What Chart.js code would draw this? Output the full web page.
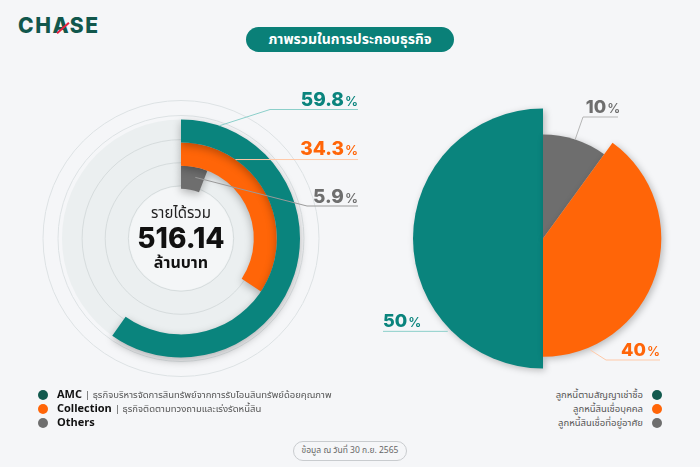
<!DOCTYPE html>
<html>
<head>
<meta charset="utf-8">
<script src="https://cdn.jsdelivr.net/npm/chart.js@4.4.1/dist/chart.umd.min.js"></script>
<style>
  html, body { margin: 0; padding: 0; }
  body {
    width: 700px; height: 467px; position: relative; overflow: hidden;
    background: #f5f6f8;
    font-family: "Noto Sans Thai", "Noto Sans", "DejaVu Sans", sans-serif;
  }
  .abs { position: absolute; }
  #logo { left: 18px; top: 14px; font-family: Inter, "DejaVu Sans", sans-serif; font-weight: 800;
    font-size: 21px; line-height: 24px; color: #11574c; letter-spacing: 1.6px; }
  #slash { left: 55px; top: 27px; width: 16px; height: 2px; background: #e8213e; transform: rotate(-42deg); }
  #title { left: 246px; top: 27px; width: 208px; height: 25px; border-radius: 13px; background: #0a8078;
    color: #fff; font-size: 14px; font-weight: bold; text-align: center; line-height: 25px; }
  #leftWrap { left: 0; top: 90px; width: 362px; height: 297px; }
  #rightWrap { left: 370px; top: 90px; width: 330px; height: 297px; }
  #center { left: 121px; top: 205px; width: 120px; text-align: center; color: #111; }
  #center .t1 { font-size: 15px; line-height: 18px; color: #222; }
  #center .t2 { font-family: Inter, sans-serif; font-weight: 800; font-size: 28px; line-height: 30px; }
  #center .t3 { font-size: 16px; font-weight: bold; line-height: 20px; }
  .leg { font-size: 9.5px; color: #555; }
  .leg div { height: 14px; line-height: 14px; display: flex; align-items: center; }
  .dot { width: 10px; height: 10px; border-radius: 50%; display: inline-block; }
  #legL { left: 38px; top: 388px; }
  #legL .dot { margin-right: 9px; }
  #legL b { color: #111; font-size: 11px; margin-right: 3px; }
  #legR { right: 38px; top: 388px; text-align: right; }
  #legR div { justify-content: flex-end; }
  #legR .dot { margin-left: 9px; }
  #foot { left: 293px; top: 441px; width: 112px; height: 18px; border: 1px solid #c9cccf; border-radius: 10px;
    font-size: 8.5px; color: #666; text-align: center; line-height: 18px; }
</style>
</head>
<body>
<div id="logo" class="abs">CHASE</div>
<div id="slash" class="abs"></div>
<div id="title" class="abs">ภาพรวมในการประกอบธุรกิจ</div>
<div id="leftWrap" class="abs"><canvas id="ringChart"></canvas></div>
<div id="rightWrap" class="abs"><canvas id="pieChart"></canvas></div>
<div id="center" class="abs">
  <div class="t1">รายได้รวม</div>
  <div class="t2">516.14</div>
  <div class="t3">ล้านบาท</div>
</div>
<div id="legL" class="abs leg"></div>
<div id="legR" class="abs leg"></div>
<div id="foot" class="abs">ข้อมูล ณ วันที่ 30 ก.ย. 2565</div>

<script>
// left: revenue split (rings)
const ringNames = ['AMC', 'Collection', 'Others'];
const ringNotes = ['ธุรกิจบริหารจัดการสินทรัพย์จากการรับโอนสินทรัพย์ด้อยคุณภาพ', 'ธุรกิจติดตามทวงถามและเร่งรัดหนี้สิน', ''];
const ringValues = [59.8, 34.3, 5.9];
const ringColors = ['#0a847d', '#ff6508', '#6e6e6e'];
const ringDots = ['#12594e', '#ff6508', '#6e6e6e'];

// right: loan portfolio
const pieLabels = ['ลูกหนี้ตามสัญญาเช่าซื้อ', 'ลูกหนี้สินเชื่อบุคคล', 'ลูกหนี้สินเชื่อที่อยู่อาศัย'];
const pieValues = [50, 40, 10];
const pieColors = ['#0a847d', '#ff6508', '#6e6e6e'];
const pieDots = ['#12594e', '#ff6508', '#6e6e6e'];
const pieOrder = [0, 2, 1];           // drawing order, clockwise from 6 o'clock
const pieRadius = [1, 0.91, 0.8];     // relative outer radius per slice

function polar(cx, cy, r, a) {
  return { x: cx + r * Math.cos(a), y: cy + r * Math.sin(a) };
}

function drawPct(ctx, text, x, y, color, align, big, small) {
  ctx.save();
  ctx.fillStyle = color;
  ctx.textBaseline = 'alphabetic';
  ctx.font = '800 ' + big + 'px Inter, sans-serif';
  const w1 = ctx.measureText(text).width;
  ctx.font = '600 ' + small + 'px Inter, sans-serif';
  const w2 = ctx.measureText('%').width;
  let x0 = x;
  if (align === 'right') x0 = x - w1 - w2 - 1;
  if (align === 'center') x0 = x - (w1 + w2 + 1) / 2;
  ctx.textAlign = 'left';
  ctx.font = '800 ' + big + 'px Inter, sans-serif';
  ctx.fillText(text, x0, y);
  ctx.font = '600 ' + small + 'px Inter, sans-serif';
  ctx.fillText('%', x0 + w1 + 1, y);
  ctx.restore();
}

function leader(ctx, pts, color) {
  ctx.save();
  ctx.strokeStyle = color;
  ctx.lineWidth = 1;
  ctx.beginPath();
  ctx.moveTo(pts[0].x, pts[0].y);
  for (let i = 1; i < pts.length; i++) ctx.lineTo(pts[i].x, pts[i].y);
  ctx.stroke();
  ctx.restore();
}

const ringDeco = {
  id: 'ringDeco',
  beforeDatasetsDraw(chart) {
    const ctx = chart.ctx;
    const a0 = chart.getDatasetMeta(0).data[0];
    const a2 = chart.getDatasetMeta(2).data[0];
    const cx = a0.x, cy = a0.y, R = a0.outerRadius, r = a2.innerRadius;
    ctx.save();
    ctx.strokeStyle = '#dde2e4';
    ctx.lineWidth = 1;
    [R + 19, R + 4].forEach(rr => { ctx.beginPath(); ctx.arc(cx, cy, rr, 0, Math.PI * 2); ctx.stroke(); });
    ctx.fillStyle = '#ebeff0';
    ctx.beginPath(); ctx.arc(cx, cy, R, 0, Math.PI * 2); ctx.fill();
    ctx.strokeStyle = '#d6dcdd';
    chart.data.datasets.forEach((ds, i) => {
      const el = chart.getDatasetMeta(i).data[0];
      ctx.beginPath(); ctx.arc(cx, cy, el.innerRadius + 3, 0, Math.PI * 2); ctx.stroke();
    });
    ctx.fillStyle = '#f4f6f7';
    ctx.beginPath(); ctx.arc(cx, cy, r + 2, 0, Math.PI * 2); ctx.fill();
    ctx.restore();
    ctx.save();
    ctx.shadowColor = 'rgba(0,0,0,0.28)';
    ctx.shadowBlur = 8;
    ctx.shadowOffsetY = 3;
  },
  afterDatasetsDraw(chart) {
    const ctx = chart.ctx;
    ctx.restore();
    const a0 = chart.getDatasetMeta(0).data[0];
    const cx = a0.x, cy = a0.y;
    const labelX = cx + 177;
    const layout = [
      { frac: 0.087, rOff: 0, elbow: { dx: 89, dy: -129 }, lineCol: '#8ccfca' },
      { frac: 0.28, rOff: 0, elbow: null, lineCol: '#ffc9a8' },
      { frac: 0.62, rOff: -10, elbow: { dx: 126, dy: -32.5 }, lineCol: '#9a9a9a' }
    ];
    const baseOff = [-3.5, -5, -3];
    ringValues.forEach((v, i) => {
      const el = chart.getDatasetMeta(i).data[0];
      const L = layout[i];
      const ang = el.startAngle + L.frac * (el.endAngle - el.startAngle);
      const p = polar(cx, cy, el.outerRadius + L.rOff, ang);
      let pts;
      let ly;
      if (L.elbow) {
        ly = cy + L.elbow.dy;
        pts = [p, { x: cx + L.elbow.dx, y: ly }, { x: labelX, y: ly }];
      } else {
        ly = p.y;
        pts = [p, { x: labelX, y: ly }];
      }
      leader(ctx, pts, L.lineCol);
      drawPct(ctx, v.toFixed(1), labelX, ly + baseOff[i], ringColors[i], 'right', 19, 13);
    });
  }
};

const pieDeco = {
  id: 'pieDeco',
  afterDatasetsUpdate(chart) {
    const meta = chart.getDatasetMeta(0);
    meta.data.forEach((arc, k) => {
      arc.outerRadius = arc.outerRadius * pieRadius[pieOrder[k]];
    });
  },
  beforeDatasetsDraw(chart) {
    const ctx = chart.ctx;
    ctx.save();
    ctx.shadowColor = 'rgba(0,0,0,0.25)';
    ctx.shadowBlur = 7;
    ctx.shadowOffsetX = 2;
    ctx.shadowOffsetY = 2;
  },
  afterDatasetsDraw(chart) {
    const ctx = chart.ctx;
    ctx.restore();
    const meta = chart.getDatasetMeta(0);
    const cx = meta.data[0].x, cy = meta.data[0].y;
    const layout = {
      0: { frac: 0.254, rOff: 3, elbow: null, endDx: -160, align: 'left', base: -4, lineCol: '#8ccfca' },
      1: { frac: 0.84, rOff: 3, elbow: { dx: 63, dy: 121.5 }, endDx: 117, align: 'right', base: -4, lineCol: '#ffc9a8' },
      2: { frac: 0.5, rOff: 0, elbow: { dx: 40, dy: -121.5 }, endDx: 75, align: 'center', base: -4, lineCol: '#b5b5b5' }
    };
    meta.data.forEach((arc, k) => {
      const idx = pieOrder[k];
      const L = layout[idx];
      const ang = arc.startAngle + L.frac * (arc.endAngle - arc.startAngle);
      const p = polar(cx, cy, arc.outerRadius + L.rOff, ang);
      let pts, ly;
      if (L.elbow) {
        ly = cy + L.elbow.dy;
        pts = [p, { x: cx + L.elbow.dx, y: ly }, { x: cx + L.endDx, y: ly }];
      } else {
        ly = p.y;
        pts = [p, { x: cx + L.endDx, y: ly }];
      }
      leader(ctx, pts, L.lineCol);
      let tx = cx + L.endDx;
      if (L.align === 'center') tx = cx + (L.elbow.dx + 5 + L.endDx) / 2;
      drawPct(ctx, String(pieValues[idx]), tx, ly + L.base, pieColors[idx], L.align, 18, 13);
    });
  }
};

new Chart(document.getElementById('ringChart'), {
  type: 'doughnut',
  data: {
    labels: ['value', 'rest'],
    datasets: ringValues.map((v, i) => ({
      label: ringNames[i],
      data: [v, 100 - v],
      backgroundColor: [ringColors[i], 'rgba(0,0,0,0)'],
      borderWidth: 0
    }))
  },
  options: {
    responsive: true,
    maintainAspectRatio: false,
    animation: false,
    events: [],
    radius: 119,
    cutout: 62,
    layout: { padding: 0 },
    plugins: { legend: { display: false }, tooltip: { enabled: false } }
  },
  plugins: [ringDeco]
});

new Chart(document.getElementById('pieChart'), {
  type: 'pie',
  data: {
    labels: pieOrder.map(i => pieLabels[i]),
    datasets: [{
      data: pieOrder.map(i => pieValues[i]),
      backgroundColor: pieOrder.map(i => pieColors[i]),
      borderWidth: 0
    }]
  },
  options: {
    responsive: true,
    maintainAspectRatio: false,
    animation: false,
    events: [],
    rotation: 180,
    radius: 130,
    layout: { padding: { left: 16 } },
    plugins: { legend: { display: false }, tooltip: { enabled: false } }
  },
  plugins: [pieDeco]
});

// legends
const legL = document.getElementById('legL');
ringNames.forEach((n, i) => {
  const row = document.createElement('div');
  row.innerHTML = '<span class="dot" style="background:' + ringDots[i] + '"></span><b>' + n + '</b>' +
    (ringNotes[i] ? '<span>| ' + ringNotes[i] + '</span>' : '');
  legL.appendChild(row);
});
const legR = document.getElementById('legR');
pieLabels.forEach((n, i) => {
  const row = document.createElement('div');
  row.innerHTML = '<span>' + n + '</span><span class="dot" style="background:' + pieDots[i] + '"></span>';
  legR.appendChild(row);
});
</script>
</body>
</html>
